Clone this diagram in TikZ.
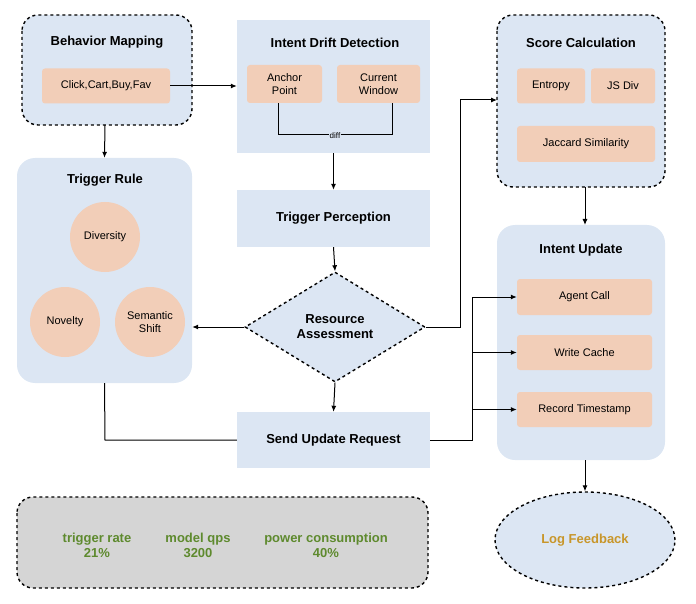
\documentclass[tikz,border=0pt]{standalone}
\usepackage{fontspec}
\setmainfont{Liberation Sans}
\usetikzlibrary{shapes.geometric,arrows.meta}
\definecolor{lb}{HTML}{DCE6F3}
\definecolor{pe}{HTML}{F2CEB8}
\definecolor{gr}{HTML}{D5D5D5}
\definecolor{gn}{HTML}{5E8A2E}
\definecolor{gd}{HTML}{C8962A}
\begin{document}
\begin{tikzpicture}[x=1pt,y=-1pt,
 dbox/.style={draw=black,dashed,line width=1.4pt,rounded corners=16pt},
 bbox/.style={fill=lb,draw=none},
 rbox/.style={fill=lb,draw=none,rounded corners=18pt},
 inner/.style={fill=pe,draw=none,rounded corners=3pt,align=center,font=\fontsize{11}{13}\selectfont},
 ttl/.style={font=\bfseries\fontsize{13}{15}\selectfont,align=center},
 circ/.style={circle,fill=pe,minimum size=70pt,inner sep=0pt,align=center,font=\fontsize{11}{13}\selectfont},
 arr/.style={-{Latex[length=6pt,width=5pt]},line width=1pt},
 ln/.style={line width=1pt}]
\useasboundingbox (0,0) rectangle (696,604);
% Behavior Mapping
\draw[dbox,fill=lb] (22,15) rectangle (192,125);
\node[ttl] (bmt) at (107,42) {Behavior Mapping};
\node[inner,minimum width=128pt,minimum height=35pt] (click) at (106,86) {Click,Cart,Buy,Fav};
% Intent drift
\node[bbox,minimum width=193pt,minimum height=133pt] (idd) at (333.5,86.5) {};
\node[ttl] at (335,43) {Intent Drift Detection};
\node[inner,minimum width=75pt,minimum height=38pt] (anchor) at (284.5,84) {Anchor\\Point};
\node[inner,minimum width=83pt,minimum height=38pt] (cur) at (378.5,84) {Current\\Window};
\coordinate (d1) at (278,135); \coordinate (d2) at (392,135);
\draw[ln] (anchor.south -| d1) -- (d1) -- (d2) -- (cur.south -| d2);
\node[fill=lb,inner sep=1pt,font=\fontsize{8}{9}\selectfont\rmfamily] (diff) at (335,136) {diff};
\draw[arr] (click.east) -- (click.east -| idd.west);
% Score Calculation
\draw[dbox,fill=lb] (497,15) rectangle (665,187);
\node (scbox) at (581,101) [minimum width=168pt,minimum height=172pt] {};
\node[ttl] at (581,43) {Score Calculation};
\node[inner,minimum width=68pt,minimum height=35pt] (ent) at (551,86) {Entropy};
\node[inner,minimum width=64pt,minimum height=35pt] (js) at (623,86) {JS Div};
\node[inner,minimum width=138pt,minimum height=36pt] (jac) at (586,144) {Jaccard Similarity};
% Trigger Rule
\node[rbox,minimum width=175pt,minimum height=225pt] (tr) at (104.5,270.5) {};
\node[ttl] at (105,180) {Trigger Rule};
\node[circ] (div) at (105,237) {Diversity};
\node[circ] (nov) at (65,322) {Novelty};
\node[circ] (sem) at (150,322) {Semantic\\Shift};
\draw[arr] (105,125) -- (tr.north);
% Trigger Perception
\node[bbox,ttl,minimum width=193pt,minimum height=57pt] (tp) at (333.5,218.5) {Trigger Perception};
\draw[arr] (idd.south) -- (tp.north);
% Diamond
\node[diamond,draw,dashed,line width=1.4pt,fill=lb,minimum width=180pt,minimum height=110pt,inner sep=0pt,ttl,aspect=1.64] (ra) at (335,327) {Resource\\Assessment};
\draw[arr] (tp.south) -- (ra.north);
\draw[arr] (ra.west) -- (ra.west -| tr.east);
\coordinate (k1) at (460,327); \coordinate (k2) at (460,100);
\draw[arr] (ra.east) -- (k1) -- (k2) -- (497,100);
% Send update
\node[bbox,ttl,minimum width=193pt,minimum height=56pt] (su) at (333.5,440) {Send Update Request};
\draw[arr] (ra.south) -- (su.north);
\coordinate (t1) at (105,440);
\draw[ln] (tr.south) -- (t1) -- (su.west);
% Intent update
\node[rbox,minimum width=168pt,minimum height=235pt] (iu) at (581,342.5) {};
\node[ttl] at (581,250) {Intent Update};
\node[inner,minimum width=135pt,minimum height=36pt] (ac) at (584.5,297) {Agent Call};
\node[inner,minimum width=135pt,minimum height=35pt] (wc) at (584.5,352.5) {Write Cache};
\node[inner,minimum width=135pt,minimum height=35pt] (rt) at (584.5,409.5) {Record Timestamp};
\draw[arr] (585,187) -- (585,225);
\coordinate (s1) at (472,440); \coordinate (s2) at (472,297);
\draw[ln] (su.east) -- (s1) -- (s2);
\draw[arr] (s2) -- (ac.west);
\draw[arr] (472,352.5) -- (wc.west);
\draw[arr] (472,409.5) -- (rt.west);
% Log feedback
\node[ellipse,draw,dashed,line width=1.4pt,fill=lb,minimum width=180pt,minimum height=96pt,font=\bfseries\fontsize{13}{15}\selectfont,text=gd] (lf) at (585,540) {Log Feedback};
\draw[arr] (585,460) -- (lf.north);
% stats
\draw[dbox,fill=gr] (17,497) rectangle (428,588);
\node[ttl,text=gn] (s1n) at (97,545) {trigger rate\\21\%};
\node[ttl,text=gn] (s2n) at (198,545) {model qps\\3200};
\node[ttl,text=gn] (s3n) at (326,545) {power consumption\\40\%};
\end{tikzpicture}
\end{document}
